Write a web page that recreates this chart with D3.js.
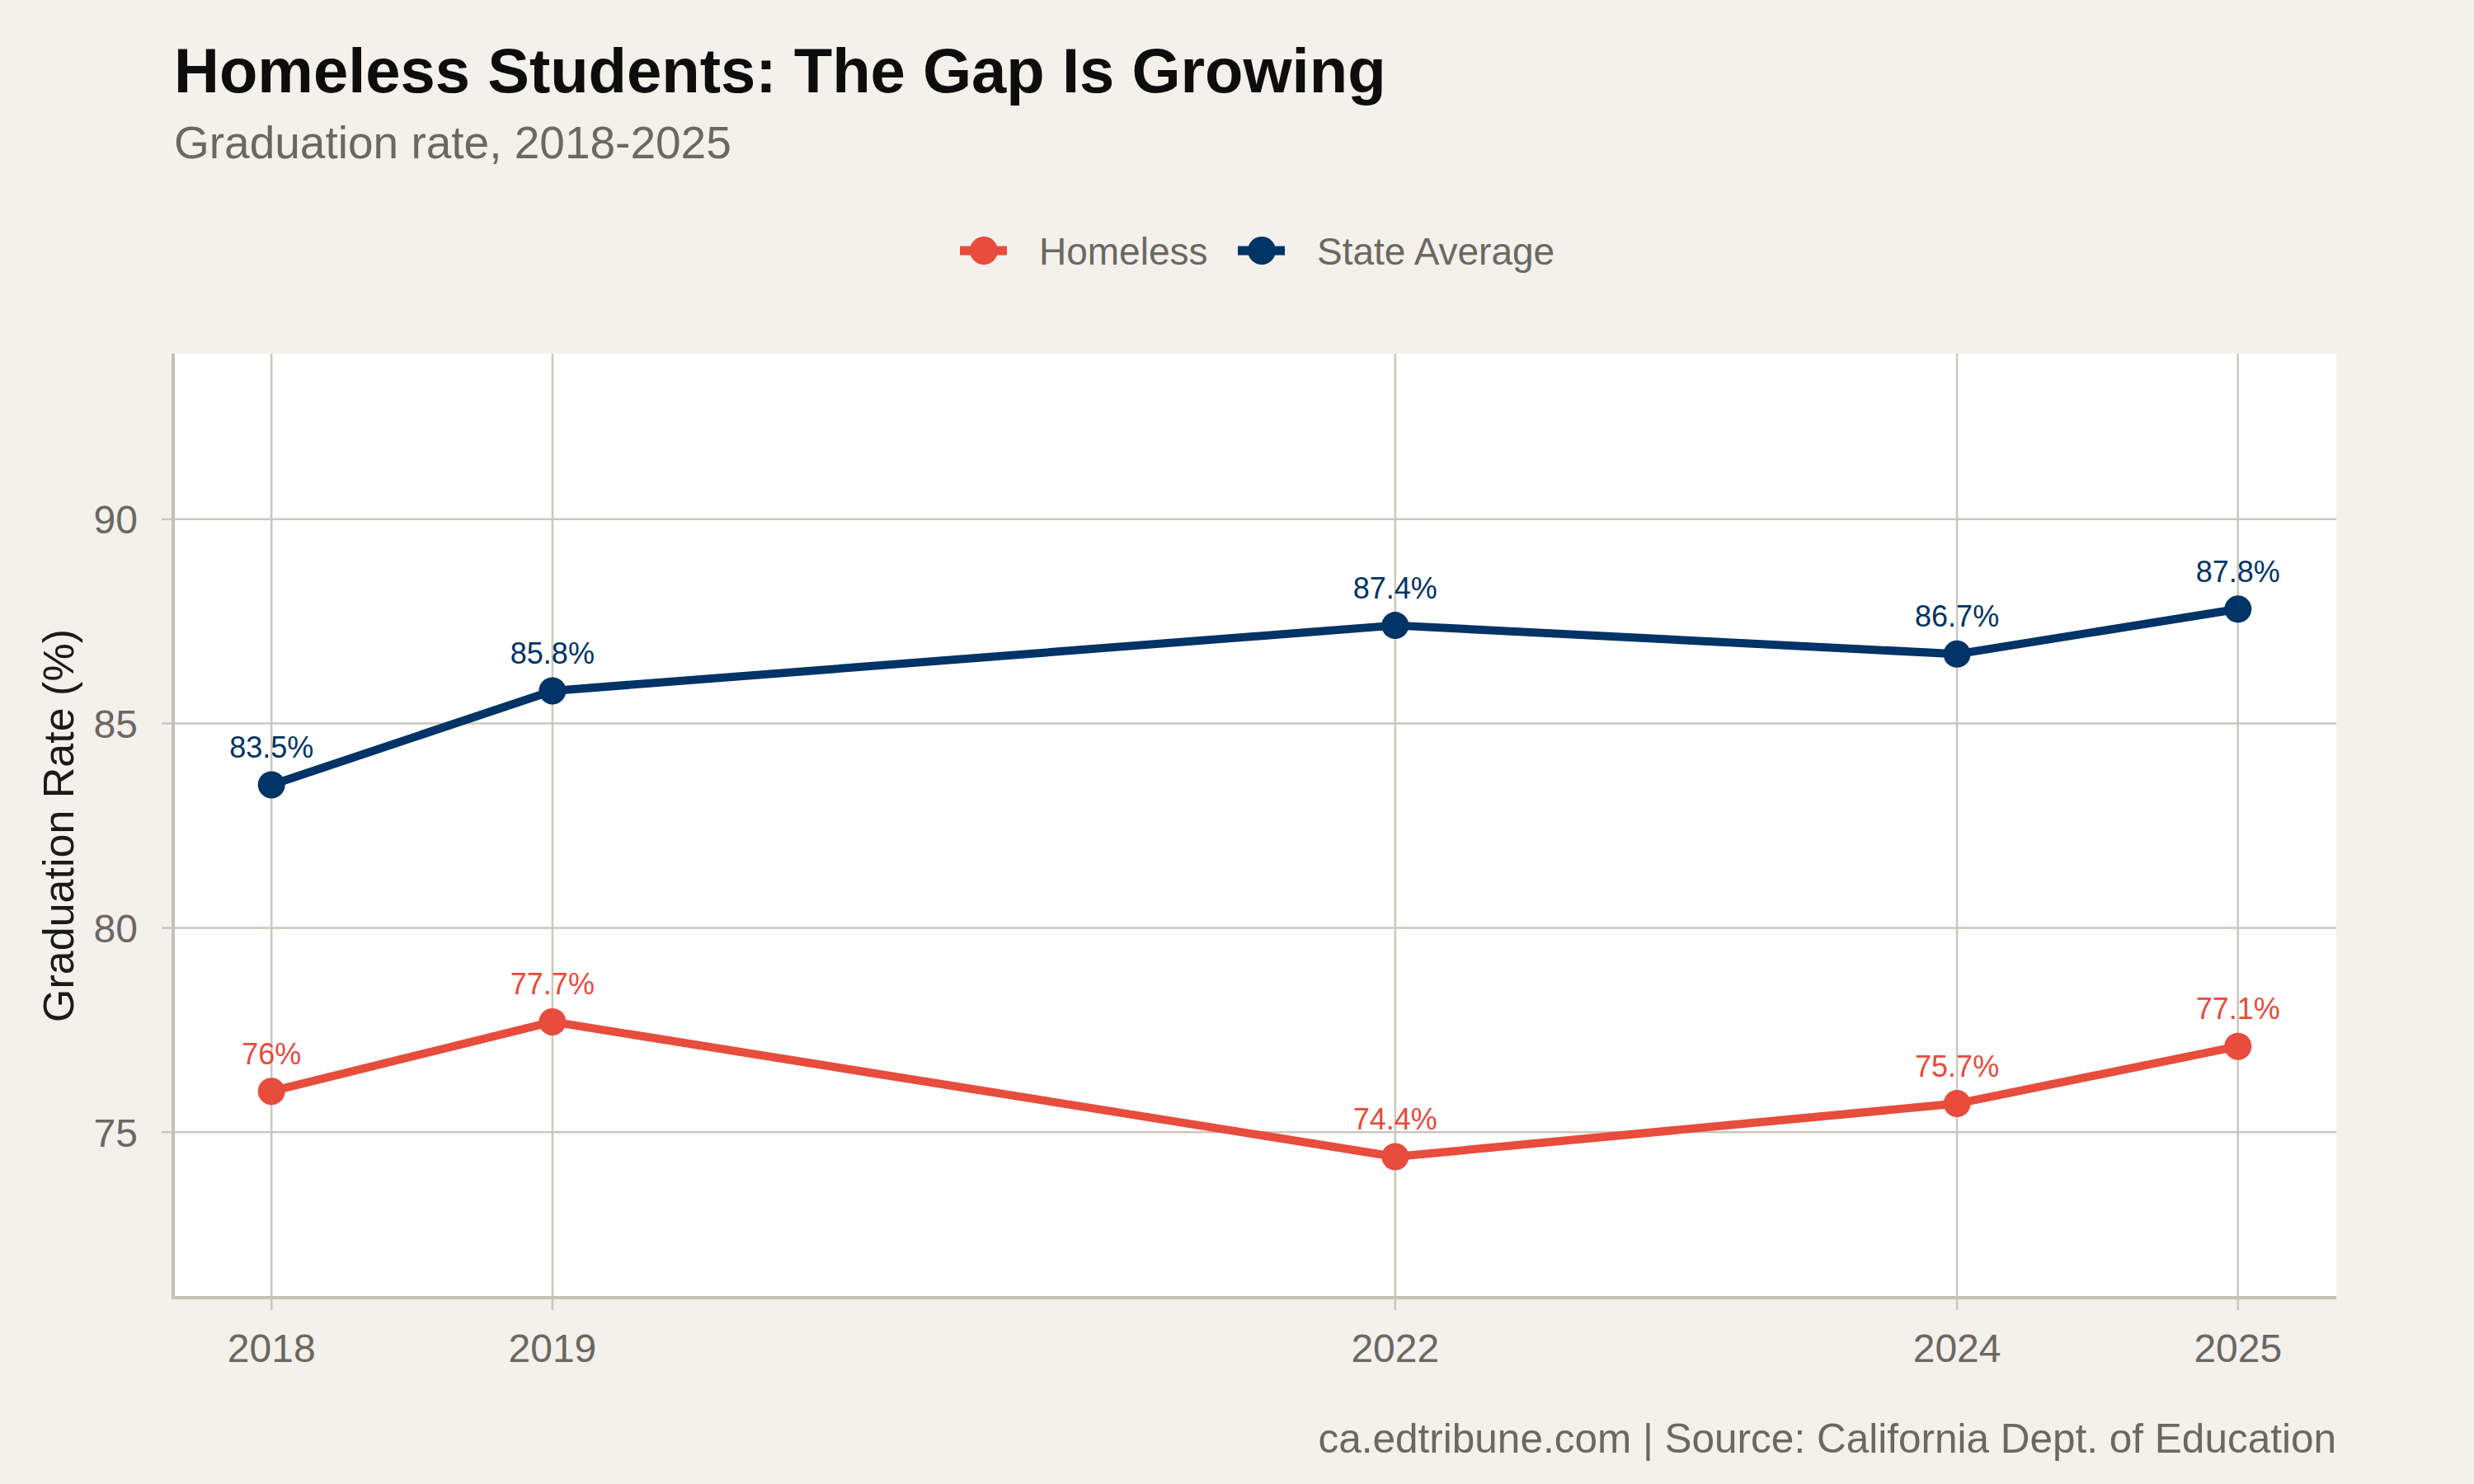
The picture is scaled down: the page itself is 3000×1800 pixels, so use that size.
<!DOCTYPE html>
<html>
<head>
<meta charset="utf-8">
<script src="https://cdn.jsdelivr.net/npm/d3@7"></script>
<style>
  body { margin: 0; background: #f4f1ec; }
  svg { display: block; font-family: "Liberation Sans", Arial, sans-serif; }
</style>
</head>
<body>
<svg id="chart" width="3000" height="1800"></svg>
<script>
// data
var years = [2018, 2019, 2022, 2024, 2025];
var homeless = [76, 77.7, 74.4, 75.7, 77.1];
var stateAvg = [83.5, 85.8, 87.4, 86.7, 87.8];
var yTicks = [75, 80, 85, 90];
var seriesNames = ["Homeless", "State Average"];
var seriesColors = ["#e74c3c", "#003366"];

var svg = d3.select("svg#chart"),
    width = +svg.attr("width"),
    height = +svg.attr("height");

var margin = { top: 429, right: 167, bottom: 226, left: 210 };
var x0 = margin.left, x1 = width - margin.right,
    y0 = margin.top, y1 = height - margin.bottom;

svg.append("rect")
    .attr("width", width).attr("height", height)
    .attr("fill", "#f4f1ec");

// ggplot-style 5% expansion
var x = d3.scaleLinear().domain([2017.65, 2025.35]).range([x0, x1]);
var y = d3.scaleLinear().domain([70.95, 94.05]).range([y1, y0]);

svg.append("rect")
    .attr("x", x0).attr("y", y0)
    .attr("width", x1 - x0).attr("height", y1 - y0)
    .attr("fill", "#ffffff");

// grid
var grid = svg.append("g").attr("class", "grid");
grid.selectAll("line.h")
    .data(yTicks)
    .enter().append("line")
    .attr("x1", x0 - 14).attr("x2", x1)
    .attr("y1", function(d) { return y(d); })
    .attr("y2", function(d) { return y(d); })
    .attr("stroke", "#ccc6bc").attr("stroke-width", 2.5);

grid.selectAll("line.v")
    .data(years)
    .enter().append("line")
    .attr("x1", function(d) { return x(d); })
    .attr("x2", function(d) { return x(d); })
    .attr("y1", y0).attr("y2", y1 + 15)
    .attr("stroke", "#ccc6bc").attr("stroke-width", 2.5);

// axis lines
svg.append("line")
    .attr("x1", x0).attr("x2", x0).attr("y1", y0).attr("y2", y1 + 2)
    .attr("stroke", "#c6c0b6").attr("stroke-width", 4);
svg.append("line")
    .attr("x1", x0).attr("x2", x1).attr("y1", y1).attr("y2", y1)
    .attr("stroke", "#c6c0b6").attr("stroke-width", 4);

// tick labels
svg.append("g").selectAll("text")
    .data(yTicks)
    .enter().append("text")
    .attr("x", 167)
    .attr("y", function(d) { return y(d); })
    .attr("dy", "0.36em")
    .attr("text-anchor", "end")
    .attr("font-size", 48)
    .attr("fill", "#6b6761")
    .text(function(d) { return d; });

svg.append("g").selectAll("text")
    .data(years)
    .enter().append("text")
    .attr("x", function(d) { return x(d); })
    .attr("y", 1652)
    .attr("text-anchor", "middle")
    .attr("font-size", 48)
    .attr("fill", "#6b6761")
    .text(function(d) { return d; });

svg.append("text")
    .attr("transform", "translate(89," + ((y0 + y1) / 2) + ") rotate(-90)")
    .attr("text-anchor", "middle")
    .attr("font-size", 52)
    .attr("fill", "#1a1a1a")
    .text("Graduation Rate (%)");

// series
var series = [homeless, stateAvg].map(function(vals, i) {
    return {
        name: seriesNames[i],
        color: seriesColors[i],
        values: vals.map(function(v, j) { return { year: years[j], value: v }; })
    };
});

var line = d3.line()
    .x(function(d) { return x(d.year); })
    .y(function(d) { return y(d.value); });

var g = svg.append("g").selectAll("g")
    .data(series)
    .enter().append("g");

g.append("path")
    .attr("d", function(d) { return line(d.values); })
    .attr("fill", "none")
    .attr("stroke", function(d) { return d.color; })
    .attr("stroke-width", 10)
    .attr("stroke-linejoin", "round");

g.each(function(s) {
    var sel = d3.select(this);
    sel.selectAll("circle")
        .data(s.values)
        .enter().append("circle")
        .attr("cx", function(d) { return x(d.year); })
        .attr("cy", function(d) { return y(d.value); })
        .attr("r", 16.5)
        .attr("fill", s.color);
    sel.selectAll("text")
        .data(s.values)
        .enter().append("text")
        .attr("x", function(d) { return x(d.year); })
        .attr("y", function(d) { return y(d.value) - 33; })
        .attr("text-anchor", "middle")
        .attr("font-size", 36)
        .attr("fill", s.color)
        .text(function(d) { return d.value + "%"; });
});

// legend
var legendX = [1164, 1501];
var legend = svg.append("g").selectAll("g")
    .data(series)
    .enter().append("g")
    .attr("transform", function(d, i) { return "translate(" + legendX[i] + ",304)"; });

legend.append("line")
    .attr("x1", 0).attr("x2", 57)
    .attr("stroke", function(d) { return d.color; })
    .attr("stroke-width", 11);
legend.append("circle")
    .attr("cx", 29).attr("r", 17)
    .attr("fill", function(d) { return d.color; });
legend.append("text")
    .attr("x", 96)
    .attr("y", 17)
    .attr("font-size", 46)
    .attr("fill", "#6b6761")
    .text(function(d) { return d.name; });

// titles
svg.append("text")
    .attr("x", 211).attr("y", 112)
    .attr("font-size", 76)
    .attr("font-weight", "bold")
    .attr("fill", "#0d0d0d")
    .text("Homeless Students: The Gap Is Growing");

svg.append("text")
    .attr("x", 211).attr("y", 192)
    .attr("font-size", 55)
    .attr("fill", "#6b6761")
    .text("Graduation rate, 2018-2025");

svg.append("text")
    .attr("x", x1).attr("y", 1762)
    .attr("text-anchor", "end")
    .attr("font-size", 49.5)
    .attr("fill", "#6b6761")
    .text("ca.edtribune.com | Source: California Dept. of Education");
</script>
</body>
</html>
